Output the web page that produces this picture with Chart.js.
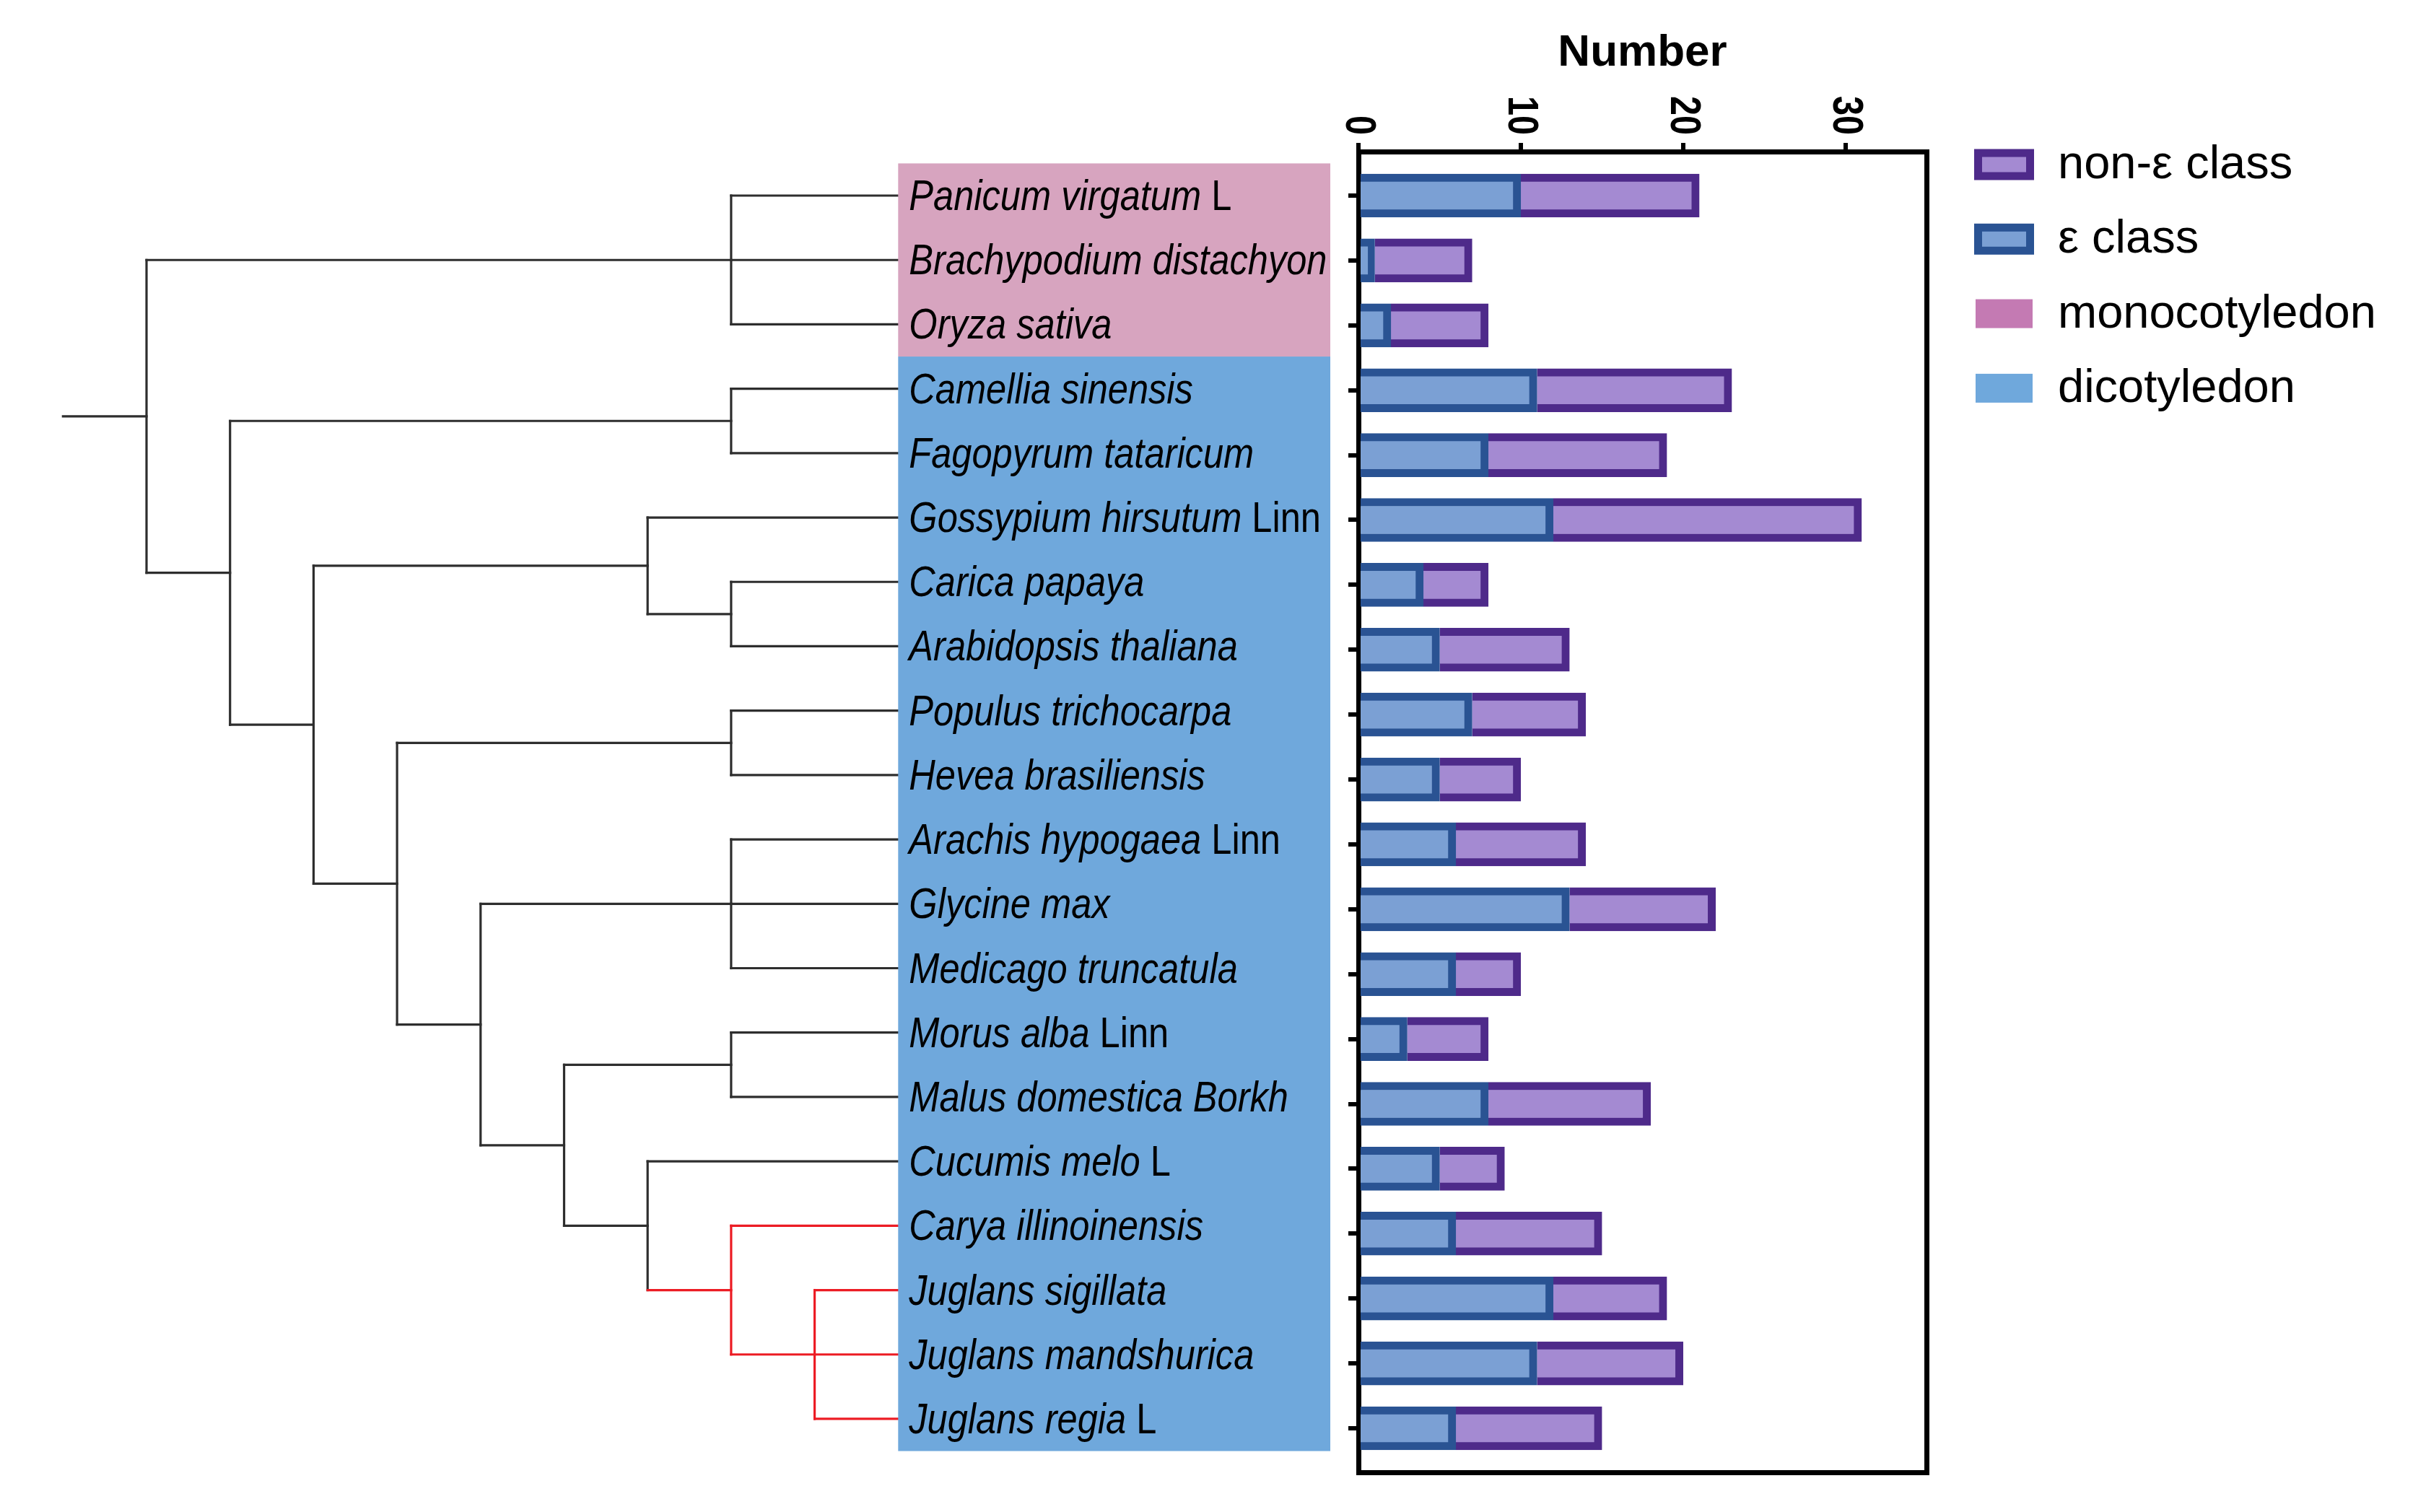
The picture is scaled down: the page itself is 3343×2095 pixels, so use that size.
<!DOCTYPE html>
<html>
<head>
<meta charset="utf-8">
<script src="https://cdn.jsdelivr.net/npm/chart.js@4.4.1/dist/chart.umd.min.js"></script>
<style>
html,body{margin:0;padding:0;background:#ffffff;}
canvas{display:block;}
</style>
</head>
<body>
<canvas id="c" width="3343" height="2095"></canvas>
<script>
// ---------------- DATA ----------------
const speciesItalic = [
  'Panicum virgatum', 'Brachypodium distachyon', 'Oryza sativa', 'Camellia sinensis',
  'Fagopyrum tataricum', 'Gossypium hirsutum', 'Carica papaya', 'Arabidopsis thaliana',
  'Populus trichocarpa', 'Hevea brasiliensis', 'Arachis hypogaea', 'Glycine max',
  'Medicago truncatula', 'Morus alba', 'Malus domestica Borkh', 'Cucumis melo',
  'Carya illinoinensis', 'Juglans sigillata', 'Juglans mandshurica', 'Juglans regia'
];
const speciesSuffix = [
  'L', '', '', '', '', 'Linn', '', '', '', '', 'Linn', '', '', 'Linn', '', 'L', '', '', '', 'L'
];
const epsClass    = [10, 1, 2, 11, 8, 12, 4, 5, 7, 5, 6, 13, 6, 3, 8, 5, 6, 12, 11, 6];
const nonEpsClass = [11, 6, 6, 12, 11, 19, 4, 8, 7, 5, 8, 9, 4, 5, 10, 4, 9, 7, 9, 9];
const seriesNames = ['ε class', 'non-ε class'];
const groupNames  = ['monocotyledon', 'dicotyledon'];
const groupFirstRow = [0, 3];
const groupLastRow  = [2, 19];
const axisTitle = 'Number';
const axisMax = 35;
const axisStep = 10;
const legendOrder = ['non-ε class', 'ε class', 'monocotyledon', 'dicotyledon'];
// dendrogram topology: d = depth of the node, c = children (leaf row index or node)
const tree = {d: 0, c: [
  {d: 7, c: [0, 1, 2]},
  {d: 1, c: [
    {d: 7, c: [3, 4]},
    {d: 2, c: [
      {d: 6, c: [5, {d: 7, c: [6, 7]}]},
      {d: 3, c: [
        {d: 7, c: [8, 9]},
        {d: 4, c: [
          {d: 7, c: [10, 11, 12]},
          {d: 5, c: [
            {d: 7, c: [13, 14]},
            {d: 6, c: [15, {d: 7, red: true, c: [16, {d: 8, red: true, c: [17, 18, 19]}]}]}
          ]}
        ]}
      ]}
    ]}
  ]}
]};

// ---------------- STYLE / LAYOUT ----------------
const W = 3343, H = 2095;
const LAY = {
  chartLeft: 1882, chartRight: 2669, chartTop: 210, chartBottom: 2040,
  treeX0: 203, treeStep: 115.7, leafDepth: 9, boxRight: 1843,
  labelPad: 15, labelSize: 60, labelSqueeze: 0.843, labelBaseShift: 20,
  tickGap: 23, tickSize: 60, tickSqueeze: 0.81,
  legendX: 2735, legendW: 83, legendY0: 228, legendStep: 103.3, legendTextX: 2851, legendFont: 65
};
const COL = {
  epsFill: '#7BA0D4', epsBorder: '#2A5393',
  nonFill: '#A48AD2', nonBorder: '#4E2A8A',
  monoPanel: '#D7A4BF', dicotPanel: '#6FA8DC',
  monoLegend: '#C47AB3', dicotLegend: '#6FA8DC',
  tree: '#2e2e2e', treeRed: '#ec1c24'
};
const FONT = '"Liberation Sans", Arial, "Helvetica Neue", sans-serif';
Chart.defaults.font.family = FONT;
Chart.defaults.color = '#000';

const treeX = d => LAY.treeX0 + d * LAY.treeStep;

const decor = {
  id: 'decor',
  afterDraw(chart) {
    const c = chart.ctx;
    const yT = chart.scales.yTree;
    const xs = chart.scales.x;
    const boxLeft = treeX(LAY.leafDepth);

    // ----- dendrogram -----
    c.save();
    c.lineWidth = 3.2;
    c.lineCap = 'square';
    const line = (x1, y1, x2, y2, col) => {
      c.strokeStyle = col; c.beginPath(); c.moveTo(x1, y1); c.lineTo(x2, y2); c.stroke();
    };
    const rowOf = n => typeof n === 'number' ? n : (rowOf(n.c[0]) + rowOf(n.c[n.c.length - 1])) / 2;
    const drawNode = (n) => {
      const x = treeX(n.d);
      const ys = n.c.map(ch => yT.getPixelForValue(rowOf(ch)));
      line(x, ys[0], x, ys[ys.length - 1], n.red ? COL.treeRed : COL.tree);
      n.c.forEach((ch, i) => {
        const isLeaf = typeof ch === 'number';
        const red = isLeaf ? !!n.red : !!ch.red;
        const x2 = isLeaf ? boxLeft : treeX(ch.d);
        line(x, ys[i], x2, ys[i], red ? COL.treeRed : COL.tree);
        if (!isLeaf) drawNode(ch);
      });
    };
    const rootY = yT.getPixelForValue(rowOf(tree));
    line(treeX(tree.d - 1), rootY, treeX(tree.d), rootY, COL.tree);
    drawNode(tree);
    c.restore();

    // ----- label panels -----
    c.save();
    const panelCols = [COL.monoPanel, COL.dicotPanel];
    groupNames.forEach((g, gi) => {
      const y1 = yT.getPixelForValue(groupFirstRow[gi] - 0.5);
      const y2 = yT.getPixelForValue(groupLastRow[gi] + 0.5);
      c.fillStyle = panelCols[gi];
      c.fillRect(boxLeft, y1, LAY.boxRight - boxLeft, y2 - y1);
    });
    c.restore();

    // ----- species labels -----
    speciesItalic.forEach((name, i) => {
      const y = yT.getPixelForValue(i) + LAY.labelBaseShift;
      c.save();
      c.translate(boxLeft + LAY.labelPad, y);
      c.scale(LAY.labelSqueeze, 1);
      c.fillStyle = '#000';
      c.textBaseline = 'alphabetic';
      c.textAlign = 'left';
      c.font = 'italic ' + LAY.labelSize + 'px ' + FONT;
      c.fillText(name, 0, 0);
      if (speciesSuffix[i]) {
        const w = c.measureText(name + ' ').width;
        c.font = LAY.labelSize + 'px ' + FONT;
        c.fillText(speciesSuffix[i], w, 0);
      }
      c.restore();
    });

    // ----- x tick labels (rotated clockwise) -----
    xs.ticks.forEach(t => {
      const px = xs.getPixelForValue(t.value);
      c.save();
      c.translate(px, chart.chartArea.top - LAY.tickGap);
      c.rotate(Math.PI / 2);
      c.scale(LAY.tickSqueeze, 1);
      c.font = 'bold ' + LAY.tickSize + 'px ' + FONT;
      c.fillStyle = '#000';
      c.textAlign = 'right';
      c.textBaseline = 'middle';
      c.fillText(String(t.value), 0, 0);
      c.restore();
    });

    // ----- legend -----
    const legendStyles = {
      'non-ε class': {fill: COL.nonFill, border: COL.nonBorder, h: 43},
      'ε class': {fill: COL.epsFill, border: COL.epsBorder, h: 43},
      'monocotyledon': {fill: COL.monoLegend, h: 40},
      'dicotyledon': {fill: COL.dicotLegend, h: 40}
    };
    legendOrder.forEach((txt, i) => {
      const st = legendStyles[txt];
      const cy = LAY.legendY0 + i * LAY.legendStep;
      const x = LAY.legendX, y = cy - st.h / 2;
      c.save();
      if (st.border) {
        c.fillStyle = st.border;
        c.fillRect(x, y, LAY.legendW, st.h);
        c.fillStyle = st.fill;
        c.fillRect(x + 11, y + 11, LAY.legendW - 22, st.h - 22);
      } else {
        c.fillStyle = st.fill;
        c.fillRect(x + 2, y, LAY.legendW - 4, st.h);
      }
      c.fillStyle = '#000';
      c.font = LAY.legendFont + 'px ' + FONT;
      c.textAlign = 'left';
      c.textBaseline = 'alphabetic';
      c.fillText(txt, LAY.legendTextX, cy + 19);
      c.restore();
    });
  }
};

const ctx = document.getElementById('c').getContext('2d');
new Chart(ctx, {
  type: 'bar',
  data: {
    datasets: [
      {
        label: seriesNames[0],
        data: epsClass.map((v, i) => ({x: v, y: i})),
        backgroundColor: COL.epsFill, borderColor: COL.epsBorder, borderWidth: 11,
        barThickness: 60, xAxisID: 'x', yAxisID: 'y'
      },
      {
        label: seriesNames[1],
        data: nonEpsClass.map((v, i) => ({x: v, y: i})),
        backgroundColor: COL.nonFill, borderColor: COL.nonBorder, borderWidth: 11,
        barThickness: 60, xAxisID: 'x', yAxisID: 'y'
      }
    ]
  },
  options: {
    indexAxis: 'y',
    responsive: false,
    animation: false,
    devicePixelRatio: 1,
    layout: {padding: {left: LAY.chartLeft - 20, right: 0, top: 0, bottom: 0}},
    plugins: {legend: {display: false}, tooltip: {enabled: false}},
    scales: {
      x: {
        type: 'linear', position: 'top', stacked: true, min: 0, max: axisMax, offset: false,
        ticks: {display: false, stepSize: axisStep, includeBounds: false},
        grid: {offset: false, drawOnChartArea: false, drawTicks: true, tickLength: 12, tickWidth: 6, lineWidth: 6, color: '#000', tickColor: '#000'},
        border: {display: true, width: 7, color: '#000'},
        title: {display: true, text: axisTitle, color: '#000', font: {size: 62, weight: 'bold'}, padding: {top: 37, bottom: 0}},
        afterFit(s) { s.height = LAY.chartTop; }
      },
      x2: {
        type: 'linear', position: 'bottom', display: true, min: 0, max: axisMax, offset: false,
        ticks: {display: false},
        grid: {offset: false, drawOnChartArea: false, drawTicks: false, lineWidth: 7, color: '#000'},
        border: {display: true, width: 7, color: '#000'},
        afterFit(s) { s.height = H - LAY.chartBottom; }
      },
      y: {
        type: 'linear', position: 'left', reverse: true, stacked: true, min: -0.679, max: 19.679, offset: false,
        ticks: {display: false, stepSize: 1, includeBounds: false},
        grid: {offset: false, drawOnChartArea: false, drawTicks: true, tickLength: 14, tickWidth: 6, lineWidth: 6, color: '#000', tickColor: '#000'},
        border: {display: true, width: 7, color: '#000'},
        afterFit(s) { s.width = 20; }
      },
      y2: {
        type: 'linear', position: 'right', display: true, offset: false,
        ticks: {display: false},
        grid: {offset: false, drawOnChartArea: false, drawTicks: false, lineWidth: 7, color: '#000'},
        border: {display: true, width: 7, color: '#000'},
        afterFit(s) { s.width = W - LAY.chartRight; }
      },
      yTree: {
        type: 'linear', position: 'left', display: false, reverse: true, min: -0.684, max: 19.83, offset: false,
        grid: {offset: false}
      }
    }
  },
  plugins: [decor]
});
</script>
</body>
</html>
